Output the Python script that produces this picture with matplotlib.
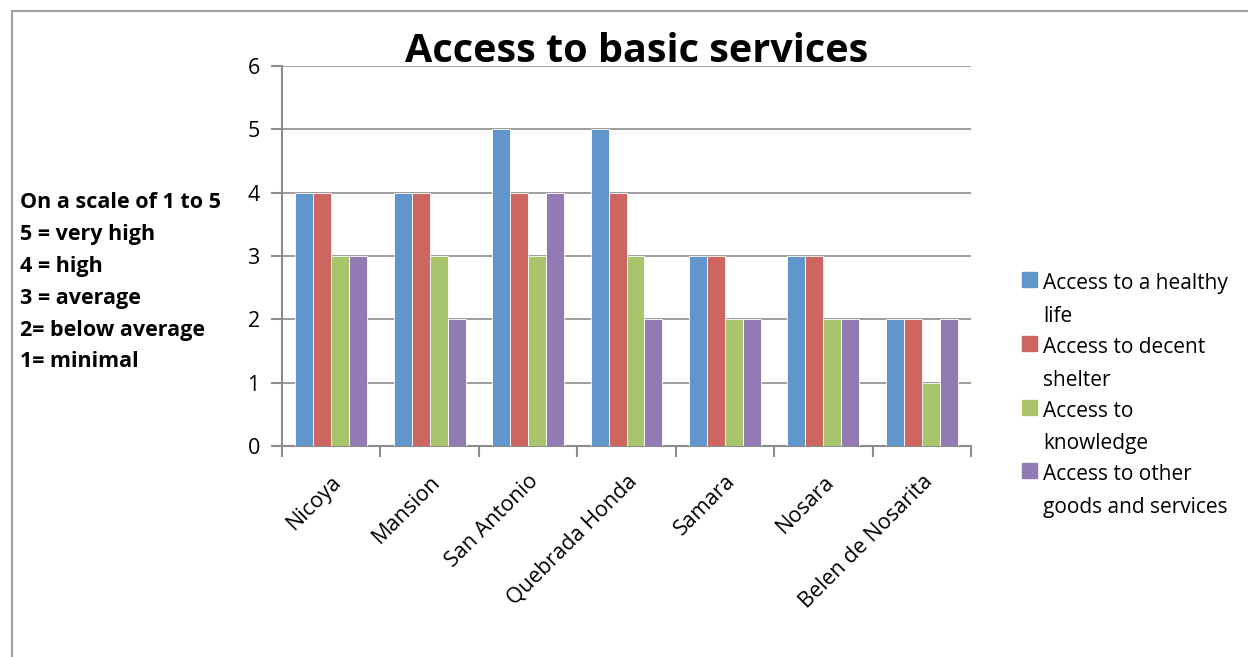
import matplotlib.pyplot as plt
import matplotlib.patches as mpatches
import numpy as np

plt.rcParams['font.family'] = ['Open Sans', 'DejaVu Sans']

# communities and their scores (1 to 5)
towns = ["Nicoya", "Mansion", "San Antonio", "Quebrada Honda", "Samara", "Nosara", "Belen de Nosarita"]
healthy_life = [4, 4, 5, 5, 3, 3, 2]
decent_shelter = [4, 4, 4, 4, 3, 3, 2]
knowledge = [3, 3, 3, 3, 2, 2, 1]
other_goods = [3, 2, 4, 2, 2, 2, 2]

series_names = ["Access to a healthy\nlife", "Access to decent\nshelter",
                "Access to\nknowledge", "Access to other\ngoods and services"]
series_values = [healthy_life, decent_shelter, knowledge, other_goods]
colors = ["#6096CB", "#CD6560", "#A9C56B", "#927BB4"]

W, H = 1248, 657
fig = plt.figure(figsize=(W / 100, H / 100), dpi=100)
ax = fig.add_axes([282 / W, 1 - 446 / H, (971 - 282) / W, (446 - 66) / H])

x = np.arange(len(towns))
bw = 0.73 / 4
for i, (vals, c) in enumerate(zip(series_values, colors)):
    ax.bar(x - 0.365 + bw * (i + 0.5), vals, width=bw, color=c, edgecolor="white",
           linewidth=0.6, label=series_names[i], zorder=3)

ax.set_xlim(-0.5, len(towns) - 0.5)
ax.set_ylim(0, 6)
ax.set_yticks(range(7))
ax.yaxis.grid(True, color="#8C8C8C", linewidth=1.2, zorder=0)
for s in ["top", "right"]:
    ax.spines[s].set_visible(False)
for s in ["left", "bottom"]:
    ax.spines[s].set_color("#8C8C8C")
    ax.spines[s].set_linewidth(1.5)

# category ticks sit between the groups
ax.set_xticks(np.arange(len(towns) + 1) - 0.5, minor=False)
ax.set_xticklabels([])
ax.set_xticks(x, minor=True)
ax.set_xticklabels(towns, minor=True, rotation=45, ha="right", va="top",
                   rotation_mode="anchor", fontsize=15.5)
ax.tick_params(axis="x", which="major", length=8, color="#8C8C8C", width=1.5)
ax.tick_params(axis="x", which="minor", length=0, pad=18)
ax.tick_params(axis="y", length=8, color="#8C8C8C", width=1.5, labelsize=15.5, pad=8)

fig.text(637 / W, 1 - 52 / H, "Access to basic services", ha="center", va="center",
         fontsize=28.5, fontweight="bold")

fig.text(20 / W, 1 - 192 / H,
         "On a scale of 1 to 5\n5 = very high\n4 = high\n3 = average\n2= below average\n1= minimal",
         ha="left", va="top", fontsize=15.5, fontweight="bold", linespacing=1.68)

# legend: square key next to the first line of each wrapped label
for i, (c, name) in enumerate(zip(colors, series_names)):
    top = 272 + i * 63.8
    fig.patches.append(mpatches.Rectangle((1022 / W, 1 - (top + 15) / H), 15 / W, 15 / H,
                                          transform=fig.transFigure, color=c))
    fig.text(1043 / W, 1 - (top + 1) / H, name, ha="left", va="top",
             fontsize=15, linespacing=1.74)

# chart area border, running off the right and bottom edges
fig.patches.append(mpatches.Rectangle((12 / W, -0.1), 1.2, 1 - 11 / H + 0.1,
                                      transform=fig.transFigure, fill=False,
                                      edgecolor="#A0A0A0", linewidth=1.5))

fig.savefig("out.png", dpi=100)
